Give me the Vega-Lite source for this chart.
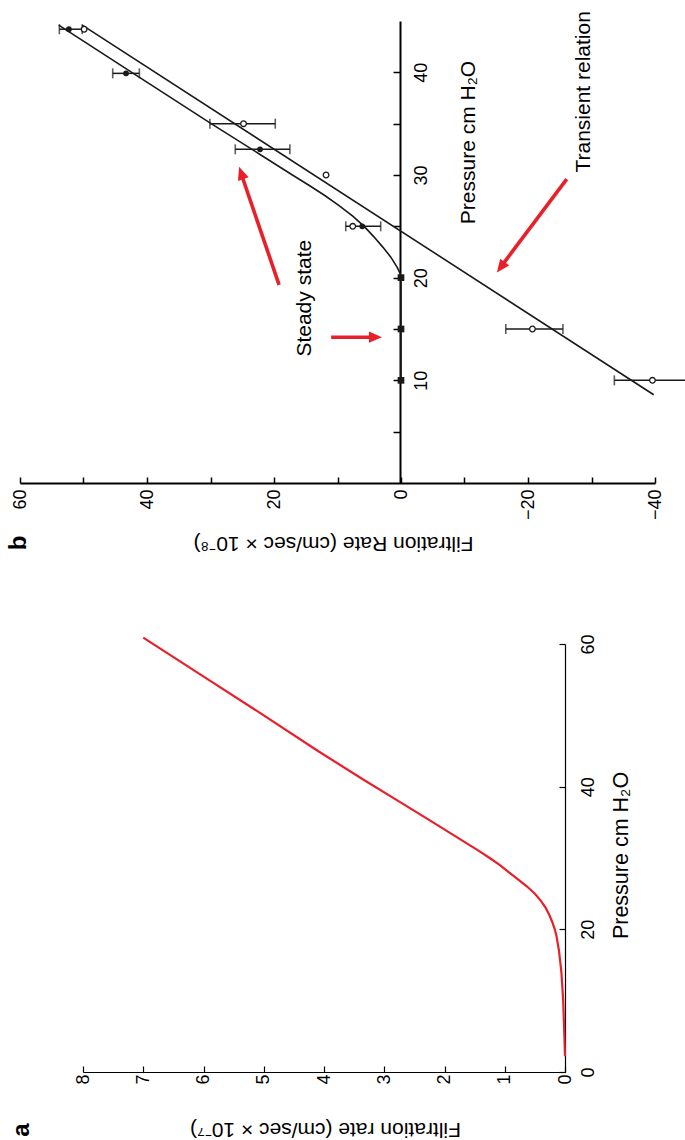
{
  "$schema": "https://vega.github.io/schema/vega-lite/v6.json",
  "width": 685,
  "height": 1140,
  "autosize": {"type": "none"},
  "padding": 0,
  "background": "white",
  "config": {
    "view": {"stroke": null},
    "font": "Liberation Sans",
    "axis": {
      "grid": false,
      "domainColor": "black",
      "tickColor": "black",
      "labelColor": "black",
      "titleColor": "black",
      "labelFont": "Liberation Sans",
      "titleFont": "Liberation Sans",
      "labelFontSize": 18,
      "titleFontSize": 21,
      "titleFontWeight": "normal",
      "labelOverlap": false,
      "labelFlush": false,
      "labelBound": false
    }
  },
  "datasets": {
    "curveA": [
      {"p": 2.2, "f": 0.0}, {"p": 5, "f": 0.01}, {"p": 10, "f": 0.03}, {"p": 14, "f": 0.06},
      {"p": 17, "f": 0.1}, {"p": 19, "f": 0.14}, {"p": 20, "f": 0.17}, {"p": 21, "f": 0.21},
      {"p": 22, "f": 0.26}, {"p": 23, "f": 0.32}, {"p": 24, "f": 0.4}, {"p": 25, "f": 0.5},
      {"p": 26, "f": 0.63}, {"p": 27, "f": 0.78}, {"p": 28, "f": 0.93}, {"p": 29, "f": 1.08},
      {"p": 30, "f": 1.25}, {"p": 31, "f": 1.43}, {"p": 33, "f": 1.81}, {"p": 35, "f": 2.19},
      {"p": 38, "f": 2.77}, {"p": 40.9, "f": 3.33}, {"p": 45, "f": 4.1},
      {"p": 50, "f": 5.0}, {"p": 55, "f": 5.92}, {"p": 60.9, "f": 7.0}
    ],
    "transient": [
      {"p": 8.6, "f": -39.8}, {"p": 44.6, "f": 50.2}
    ],
    "steady": [
      {"p": 10, "f": 0}, {"p": 20, "f": 0}, {"p": 20.5, "f": 0.2}, {"p": 21, "f": 0.6},
      {"p": 22, "f": 1.6}, {"p": 23, "f": 2.9}, {"p": 24, "f": 4.3}, {"p": 25, "f": 5.8},
      {"p": 26, "f": 7.6}, {"p": 27, "f": 9.7}, {"p": 28, "f": 12.0}, {"p": 29, "f": 14.5},
      {"p": 30, "f": 17.1}, {"p": 32, "f": 22.2}, {"p": 35, "f": 29.9}, {"p": 40, "f": 42.4},
      {"p": 44.6, "f": 53.9}
    ],
    "errs": [
      {"p": 10, "lo": -46, "hi": -33.6}, {"p": 15, "lo": -25.5, "hi": -16.5},
      {"p": 25, "lo": 3.2, "hi": 8.7}, {"p": 32.5, "lo": 17.5, "hi": 26.1},
      {"p": 35, "lo": 19.8, "hi": 30.1}, {"p": 39.9, "lo": 41.2, "hi": 45.4},
      {"p": 44.2, "lo": 50.2, "hi": 53.8}
    ],
    "openPts": [
      {"p": 10, "f": -39.6}, {"p": 15, "f": -20.7}, {"p": 25, "f": 7.6},
      {"p": 30, "f": 11.8}, {"p": 35, "f": 24.8}, {"p": 44.2, "f": 49.9}
    ],
    "filledPts": [
      {"p": 25, "f": 6.1}, {"p": 32.5, "f": 22.2}, {"p": 39.9, "f": 43.3}, {"p": 44.2, "f": 52.3}
    ],
    "steadyPts": [
      {"p": 10, "f": 0}, {"p": 15, "f": 0}, {"p": 20, "f": 0}
    ],
    "arrows": [
      {"id": "a1", "f": 19.2, "p": 19.3, "fe": 25.1, "pe": 30.0, "ft": 25.5, "pt": 30.8},
      {"id": "a2", "f": 11.0, "p": 14.2, "fe": 4.25, "pe": 14.2, "ft": 3.0, "pt": 14.2},
      {"id": "a3", "f": -26.1, "p": 29.6, "fe": -15.9, "pe": 21.2, "ft": -15.1, "pt": 20.5}
    ],
    "notesB": [
      {"f": 15.1, "p": 18.0, "t": "Steady state"},
      {"f": -28.8, "p": 38.1, "t": "Transient relation"}
    ]
  },
  "layer": [
    {
      "data": {"name": "curveA"},
      "mark": {"type": "line", "color": "#e8202a", "strokeWidth": 2.2},
      "encoding": {
        "x": {
          "field": "f", "type": "quantitative",
          "scale": {"domain": [0, 8], "range": [565, 83], "nice": false, "zero": false},
          "axis": {
            "orient": "bottom", "offset": -68, "values": [0, 1, 2, 3, 4, 5, 6, 7, 8],
            "tickSize": -6, "tickWidth": 1.2, "domainWidth": 1.2,
            "labelAngle": 270, "labelAlign": "right", "labelBaseline": "middle", "labelPadding": 8,
            "title": "Filtration rate (cm/sec × 10⁻⁷)", "titleAngle": 180,
            "titleX": 325, "titleY": 56, "titleAlign": "center", "titleBaseline": "middle"
          }
        },
        "y": {
          "field": "p", "type": "quantitative",
          "scale": {"domain": [0, 60], "range": [1072, 644], "nice": false, "zero": false},
          "axis": {
            "orient": "right", "offset": -120, "values": [0, 20, 40, 60],
            "tickSize": -6, "tickWidth": 1.2, "domainWidth": 1.2,
            "labelAngle": 270, "labelAlign": "center", "labelBaseline": "top", "labelPadding": 20,
            "title": "Pressure cm H₂O", "titleAngle": 270, "titleFontSize": 21.5,
            "titleX": 56, "titleY": 855, "titleAlign": "center", "titleBaseline": "middle"
          }
        },
        "order": {"field": "p", "type": "quantitative"}
      }
    },
    {
      "data": {"values": [{"f": 9.01, "p": -8.13, "t": "a"}]},
      "mark": {"type": "text", "angle": 270, "fontWeight": "bold", "fontSize": 24, "align": "center", "baseline": "middle", "color": "black"},
      "encoding": {
        "x": {"field": "f", "type": "quantitative", "axis": null, "scale": {"domain": [0, 8], "range": [565, 83], "nice": false, "zero": false}},
        "y": {"field": "p", "type": "quantitative", "axis": null, "scale": {"domain": [0, 60], "range": [1072, 644], "nice": false, "zero": false}},
        "text": {"field": "t"}
      }
    },
    {
      "data": {"name": "transient"},
      "mark": {"type": "line", "color": "#1a1a1a", "strokeWidth": 1.6},
      "encoding": {
        "x": {
          "field": "f", "type": "quantitative",
          "scale": {"domain": [-40, 60], "range": [655, 20], "nice": false, "zero": false},
          "axis": {
            "orient": "bottom", "offset": -657,
            "values": [-40, -30, -20, -10, 0, 10, 20, 30, 40, 50, 60],
            "labelExpr": "datum.value % 20 === 0 ? datum.label : ''",
            "tickSize": -6, "tickWidth": 1.5, "domainWidth": 2,
            "labelAngle": 270, "labelAlign": "right", "labelBaseline": "middle", "labelPadding": 12,
            "title": "Filtration Rate (cm/sec × 10⁻⁸)", "titleAngle": 180,
            "titleX": 333, "titleY": 59, "titleAlign": "center", "titleBaseline": "middle"
          }
        },
        "y": {
          "field": "p", "type": "quantitative",
          "scale": {"domain": [0, 45], "range": [483, 21], "nice": false, "zero": false},
          "axis": {
            "orient": "right", "offset": -285,
            "values": [5, 10, 15, 20, 25, 30, 35, 40],
            "labelExpr": "datum.value % 10 === 0 ? datum.label : ''",
            "tickSize": -7, "tickWidth": 1.5, "domainWidth": 2,
            "labelAngle": 270, "labelAlign": "center", "labelBaseline": "top", "labelPadding": 19,
            "title": "Pressure cm H₂O", "titleAngle": 270,
            "titleX": 68, "titleY": 142, "titleAlign": "center", "titleBaseline": "middle"
          }
        },
        "order": {"field": "p", "type": "quantitative"}
      }
    },
    {
      "data": {"name": "steady"},
      "mark": {"type": "line", "color": "#1a1a1a", "strokeWidth": 1.6},
      "encoding": {
        "x": {"field": "f", "type": "quantitative", "axis": null, "scale": {"domain": [-40, 60], "range": [655, 20], "nice": false, "zero": false}},
        "y": {"field": "p", "type": "quantitative", "axis": null, "scale": {"domain": [0, 45], "range": [483, 21], "nice": false, "zero": false}},
        "order": {"field": "p", "type": "quantitative"}
      }
    },
    {
      "data": {"name": "errs"},
      "mark": {"type": "rule", "color": "#1a1a1a", "strokeWidth": 1.5},
      "encoding": {
        "x": {"field": "lo", "type": "quantitative", "axis": null, "scale": {"domain": [-40, 60], "range": [655, 20], "nice": false, "zero": false}},
        "x2": {"field": "hi"},
        "y": {"field": "p", "type": "quantitative", "axis": null, "scale": {"domain": [0, 45], "range": [483, 21], "nice": false, "zero": false}}
      }
    },
    {
      "data": {"name": "errs"},
      "mark": {"type": "tick", "orient": "vertical", "color": "#1a1a1a", "size": 10, "thickness": 1.6},
      "encoding": {
        "x": {"field": "lo", "type": "quantitative", "axis": null, "scale": {"domain": [-40, 60], "range": [655, 20], "nice": false, "zero": false}},
        "y": {"field": "p", "type": "quantitative", "axis": null, "scale": {"domain": [0, 45], "range": [483, 21], "nice": false, "zero": false}}
      }
    },
    {
      "data": {"name": "errs"},
      "mark": {"type": "tick", "orient": "vertical", "color": "#1a1a1a", "size": 10, "thickness": 1.6},
      "encoding": {
        "x": {"field": "hi", "type": "quantitative", "axis": null, "scale": {"domain": [-40, 60], "range": [655, 20], "nice": false, "zero": false}},
        "y": {"field": "p", "type": "quantitative", "axis": null, "scale": {"domain": [0, 45], "range": [483, 21], "nice": false, "zero": false}}
      }
    },
    {
      "data": {"name": "openPts"},
      "mark": {"type": "point", "shape": "circle", "filled": true, "fill": "white", "stroke": "#1a1a1a", "strokeWidth": 1.3, "size": 32, "opacity": 1},
      "encoding": {
        "x": {"field": "f", "type": "quantitative", "axis": null, "scale": {"domain": [-40, 60], "range": [655, 20], "nice": false, "zero": false}},
        "y": {"field": "p", "type": "quantitative", "axis": null, "scale": {"domain": [0, 45], "range": [483, 21], "nice": false, "zero": false}}
      }
    },
    {
      "data": {"name": "filledPts"},
      "mark": {"type": "point", "shape": "circle", "filled": true, "color": "#1a1a1a", "size": 34, "opacity": 1},
      "encoding": {
        "x": {"field": "f", "type": "quantitative", "axis": null, "scale": {"domain": [-40, 60], "range": [655, 20], "nice": false, "zero": false}},
        "y": {"field": "p", "type": "quantitative", "axis": null, "scale": {"domain": [0, 45], "range": [483, 21], "nice": false, "zero": false}}
      }
    },
    {
      "data": {"name": "steadyPts"},
      "mark": {"type": "point", "shape": "square", "filled": true, "color": "#1a1a1a", "size": 45, "opacity": 1},
      "encoding": {
        "x": {"field": "f", "type": "quantitative", "axis": null, "scale": {"domain": [-40, 60], "range": [655, 20], "nice": false, "zero": false}},
        "y": {"field": "p", "type": "quantitative", "axis": null, "scale": {"domain": [0, 45], "range": [483, 21], "nice": false, "zero": false}}
      }
    },
    {
      "data": {"name": "arrows"},
      "mark": {"type": "rule", "color": "#e8202a", "strokeWidth": 3.6},
      "encoding": {
        "x": {"field": "f", "type": "quantitative", "axis": null, "scale": {"domain": [-40, 60], "range": [655, 20], "nice": false, "zero": false}},
        "x2": {"field": "fe"},
        "y": {"field": "p", "type": "quantitative", "axis": null, "scale": {"domain": [0, 45], "range": [483, 21], "nice": false, "zero": false}},
        "y2": {"field": "pe"}
      }
    },
    {
      "data": {"name": "arrows"},
      "transform": [{"filter": "datum.id == 'a1'"}],
      "mark": {"type": "point", "shape": "M0,0L0.65,1.5L-0.65,1.5Z", "filled": true, "color": "#e8202a", "size": 300, "opacity": 1, "angle": 341},
      "encoding": {
        "x": {"field": "ft", "type": "quantitative", "axis": null, "scale": {"domain": [-40, 60], "range": [655, 20], "nice": false, "zero": false}},
        "y": {"field": "pt", "type": "quantitative", "axis": null, "scale": {"domain": [0, 45], "range": [483, 21], "nice": false, "zero": false}}
      }
    },
    {
      "data": {"name": "arrows"},
      "transform": [{"filter": "datum.id == 'a2'"}],
      "mark": {"type": "point", "shape": "M0,0L0.65,1.5L-0.65,1.5Z", "filled": true, "color": "#e8202a", "size": 300, "opacity": 1, "angle": 90},
      "encoding": {
        "x": {"field": "ft", "type": "quantitative", "axis": null, "scale": {"domain": [-40, 60], "range": [655, 20], "nice": false, "zero": false}},
        "y": {"field": "pt", "type": "quantitative", "axis": null, "scale": {"domain": [0, 45], "range": [483, 21], "nice": false, "zero": false}}
      }
    },
    {
      "data": {"name": "arrows"},
      "transform": [{"filter": "datum.id == 'a3'"}],
      "mark": {"type": "point", "shape": "M0,0L0.65,1.5L-0.65,1.5Z", "filled": true, "color": "#e8202a", "size": 300, "opacity": 1, "angle": 217},
      "encoding": {
        "x": {"field": "ft", "type": "quantitative", "axis": null, "scale": {"domain": [-40, 60], "range": [655, 20], "nice": false, "zero": false}},
        "y": {"field": "pt", "type": "quantitative", "axis": null, "scale": {"domain": [0, 45], "range": [483, 21], "nice": false, "zero": false}}
      }
    },
    {
      "data": {"name": "notesB"},
      "mark": {"type": "text", "angle": 270, "fontSize": 21, "align": "center", "baseline": "middle", "color": "black"},
      "encoding": {
        "x": {"field": "f", "type": "quantitative", "axis": null, "scale": {"domain": [-40, 60], "range": [655, 20], "nice": false, "zero": false}},
        "y": {"field": "p", "type": "quantitative", "axis": null, "scale": {"domain": [0, 45], "range": [483, 21], "nice": false, "zero": false}},
        "text": {"field": "t"}
      }
    },
    {
      "data": {"values": [{"f": 60.2, "p": -5.84, "t": "b"}]},
      "mark": {"type": "text", "angle": 270, "fontWeight": "bold", "fontSize": 24, "align": "center", "baseline": "middle", "color": "black"},
      "encoding": {
        "x": {"field": "f", "type": "quantitative", "axis": null, "scale": {"domain": [-40, 60], "range": [655, 20], "nice": false, "zero": false}},
        "y": {"field": "p", "type": "quantitative", "axis": null, "scale": {"domain": [0, 45], "range": [483, 21], "nice": false, "zero": false}},
        "text": {"field": "t"}
      }
    }
  ],
  "resolve": {
    "scale": {"x": "independent", "y": "independent"},
    "axis": {"x": "independent", "y": "independent"}
  }
}
